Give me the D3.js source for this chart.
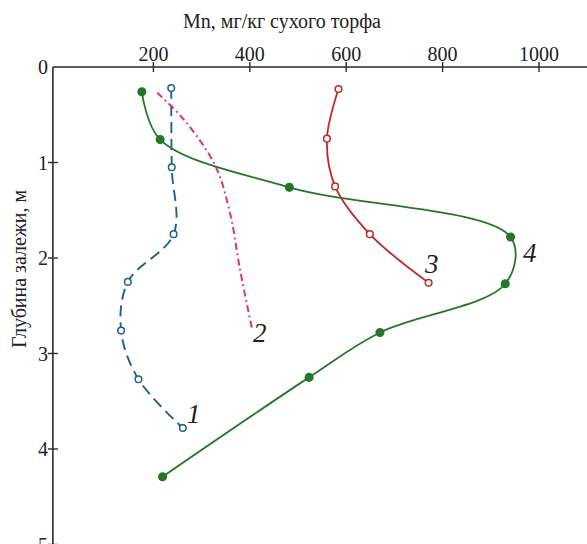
<!DOCTYPE html>
<html><head><meta charset="utf-8">
<script src="https://cdn.jsdelivr.net/npm/d3@7"></script>
<style>body{margin:0;background:#fff}svg{display:block}text{font-family:"Liberation Serif","Times New Roman",serif}</style>
</head><body><svg id="c" width="587" height="544"></svg>
<script>
const xTicks = [200, 400, 600, 800, 1000];
const yTicks = [0, 1, 2, 3, 4, 5];
const xTitle = "Mn, мг/кг сухого торфа";
const yTitle = "Глубина залежи, м";

const s1Depth = [0.22, 1.05, 1.75, 2.25, 2.76, 3.27, 3.78];
const s1Mn    = [237, 238, 242, 147, 133, 169, 261];
const s2Depth = [0.27, 0.55, 1.03, 1.53, 2.13, 2.75];
const s2Mn    = [208, 263, 328, 359, 380, 405];
const s3Depth = [0.23, 0.75, 1.25, 1.75, 2.26];
const s3Mn    = [584, 560, 577, 649, 771];
const s4Depth = [0.26, 0.76, 1.26, 1.78, 2.27, 2.78, 3.25, 4.29];
const s4Mn    = [176, 214, 482, 941, 930, 670, 523, 219];
const seriesLabels = ["1", "2", "3", "4"];

const svg = d3.select("#c");
const x = d3.scaleLinear().domain([0, 1000]).range([57, 539]);
const y = d3.scaleLinear().domain([0, 5]).range([67, 544.5]);
const axisColor = "#2b2b2b";
const axisX0 = x(-8.5);

// x axis
svg.append("line").attr("x1", axisX0).attr("x2", 587).attr("y1", y(0)).attr("y2", y(0))
  .attr("stroke", axisColor).attr("stroke-width", 1.6);
svg.selectAll(".xt").data(xTicks).join("line")
  .attr("x1", d => x(d)).attr("x2", d => x(d)).attr("y1", y(0) - 5).attr("y2", y(0) + 5)
  .attr("stroke", axisColor).attr("stroke-width", 1.4);
svg.selectAll(".xl").data(xTicks).join("text")
  .attr("x", d => x(d)).attr("y", y(0) - 6).attr("text-anchor", "middle")
  .attr("font-size", 20).attr("fill", "#222").text(d => d);
// y axis
svg.append("line").attr("x1", axisX0).attr("x2", axisX0).attr("y1", y(0)).attr("y2", 544)
  .attr("stroke", axisColor).attr("stroke-width", 1.6);
svg.selectAll(".yt").data(yTicks.slice(1)).join("line")
  .attr("x1", axisX0 - 5).attr("x2", axisX0 + 5).attr("y1", d => y(d)).attr("y2", d => y(d))
  .attr("stroke", axisColor).attr("stroke-width", 1.4);
svg.selectAll(".yl").data(yTicks).join("text")
  .attr("x", axisX0 - 5).attr("y", d => y(d) + 7).attr("text-anchor", "end")
  .attr("font-size", 20).attr("fill", "#222").text(d => d);
// titles
svg.append("text").attr("x", 282).attr("y", 28).attr("text-anchor", "middle")
  .attr("font-size", 20).attr("fill", "#222").text(xTitle);
svg.append("text").attr("transform", "translate(26,269) rotate(-90)").attr("text-anchor", "middle")
  .attr("font-size", 20).attr("fill", "#222").text(yTitle);

const line = d3.line().x(d => x(d[0])).y(d => y(d[1])).curve(d3.curveCatmullRom.alpha(0.5));
const zip = (a, b) => a.map((v, i) => [v, b[i]]);

const series = [
  {pts: zip(s1Mn, s1Depth), color: "#235f8c", dash: "11,6", w: 1.9, marker: "open", lab: [187, 423]},
  {pts: zip(s2Mn, s2Depth), color: "#e2317c", dash: "7,3.5,1.8,3.5", w: 2, marker: null, lab: [253, 342]},
  {pts: zip(s3Mn, s3Depth), color: "#c1272d", dash: null, w: 1.8, marker: "open", lab: [425, 273]},
  {pts: zip(s4Mn, s4Depth), color: "#26762e", dash: null, w: 1.8, marker: "filled", lab: [523, 262]}
];
series.forEach((s, i) => {
  svg.append("path").attr("d", line(s.pts)).attr("fill", "none")
    .attr("stroke", s.color).attr("stroke-width", s.w)
    .attr("stroke-dasharray", s.dash);
  if (s.marker) {
    svg.selectAll(null).data(s.pts).join("circle")
      .attr("cx", d => x(d[0])).attr("cy", d => y(d[1]))
      .attr("r", s.marker === "open" ? 3.3 : 3.8)
      .attr("fill", s.marker === "open" ? "#fff" : s.color)
      .attr("stroke", s.color).attr("stroke-width", 1.5);
  }
  svg.append("text").attr("x", s.lab[0]).attr("y", s.lab[1])
    .attr("font-size", 27).attr("font-style", "italic").attr("fill", "#222").text(seriesLabels[i]);
});
</script></body></html>
